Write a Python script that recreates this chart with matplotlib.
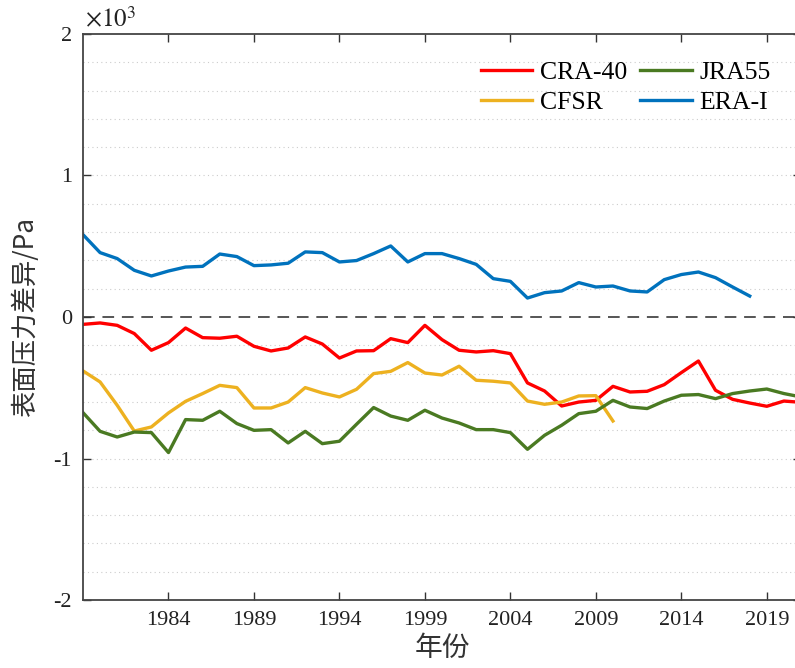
import matplotlib
matplotlib.use("Agg")
import matplotlib.pyplot as plt
import numpy as np

# 数据 (Pa)
years = np.arange(1979, 2022)

cra40 = [-52, -42, -59, -117, -235, -181, -78, -146, -150, -136,
         -207, -240, -219, -141, -191, -290, -240, -238, -153, -181,
         -59, -160, -235, -247, -238, -259, -466, -523, -629, -601,
         -589, -490, -530, -525, -478, -393, -311, -518, -582, -608,
         -631, -594, -603]

cfsr_years = np.arange(1979, 2011)
cfsr = [-381, -459, -624, -806, -777, -678, -596, -541, -483, -499,
        -643, -643, -601, -499, -537, -565, -511, -400, -384, -322,
        -396, -410, -348, -447, -454, -466, -594, -617, -601, -558,
        -556, -735]

jra55 = [-676, -808, -848, -813, -817, -958, -725, -730, -666, -753,
         -801, -796, -890, -808, -895, -878, -758, -640, -700, -730,
         -659, -714, -749, -796, -796, -817, -935, -836, -765, -683,
         -666, -589, -636, -647, -594, -553, -548, -577, -541, -523,
         -509, -541, -565]

erai_years = np.arange(1979, 2019)
erai = [582, 455, 413, 330, 290, 325, 353, 358, 445, 427,
        363, 368, 380, 460, 455, 389, 399, 448, 502, 389,
        448, 448, 413, 372, 271, 252, 134, 172, 184, 243,
        212, 219, 184, 177, 264, 300, 318, 278, 212, 148]

xticks = [1984, 1989, 1994, 1999, 2004, 2009, 2014, 2019]
yticks = [-2000, -1000, 0, 1000, 2000]
ytick_labels = ['-2', '-1', '0', '1', '2']

serif = ['Liberation Serif', 'Noto Sans CJK SC']
cjk = ['Noto Sans CJK SC', 'Liberation Serif']
plt.rcParams['font.family'] = serif
plt.rcParams['mathtext.fontset'] = 'stix'

fig = plt.figure(figsize=(7.95, 6.68), dpi=100)
ax = fig.add_axes([83 / 795, 1 - 600 / 668, 718 / 795, 566 / 668])

ax.plot(years, cra40, color='#FF0000', lw=2.4, label='CRA-40')
ax.plot(cfsr_years, cfsr, color='#EDB120', lw=2.4, label='CFSR')
ax.plot(years, jra55, color='#4A7A22', lw=2.4, label='JRA55')
ax.plot(erai_years, erai, color='#0072BD', lw=2.4, label='ERA-I')

ax.axhline(0, color='#555555', lw=1.4, ls=(0, (6, 4)), zorder=1)

# 虚线网格 (每 200 Pa)
for yv in np.arange(-1800, 1801, 200):
    if yv != 0:
        ax.axhline(yv, color='#cccccc', lw=0.8, ls=(0, (1, 3)), zorder=0)

ax.set_xlim(1979, 2021)
ax.set_ylim(-2000, 2000)
ax.set_xticks(xticks)
ax.set_xticklabels([str(x) for x in xticks])
ax.set_yticks(yticks)
ax.set_yticklabels(ytick_labels)
ax.tick_params(direction='in', length=6, width=1, colors='#333333',
               labelcolor='#222222', labelsize=16, top=True, right=True, pad=8)
for s in ax.spines.values():
    s.set_color('#444444')
    s.set_linewidth(1.3)

ax.text(0.003, 1.003, r'$\times 10^{3}$', transform=ax.transAxes,
        fontsize=18, color='#222222', va='bottom', ha='left')

ax.set_ylabel('表面压力差异/Pa', fontsize=19, color='#333333',
              family=cjk, labelpad=10)
ax.set_xlabel('年份', fontsize=20, color='#333333', family=cjk, labelpad=2)

ax.legend(loc='upper right', ncol=2, frameon=False, fontsize=18.5,
          handlelength=2.0, columnspacing=0.5, handletextpad=0.3,
          labelspacing=0.25, borderaxespad=0.0,
          bbox_to_anchor=(0.972, 0.97))

fig.savefig('out.png', dpi=100)
